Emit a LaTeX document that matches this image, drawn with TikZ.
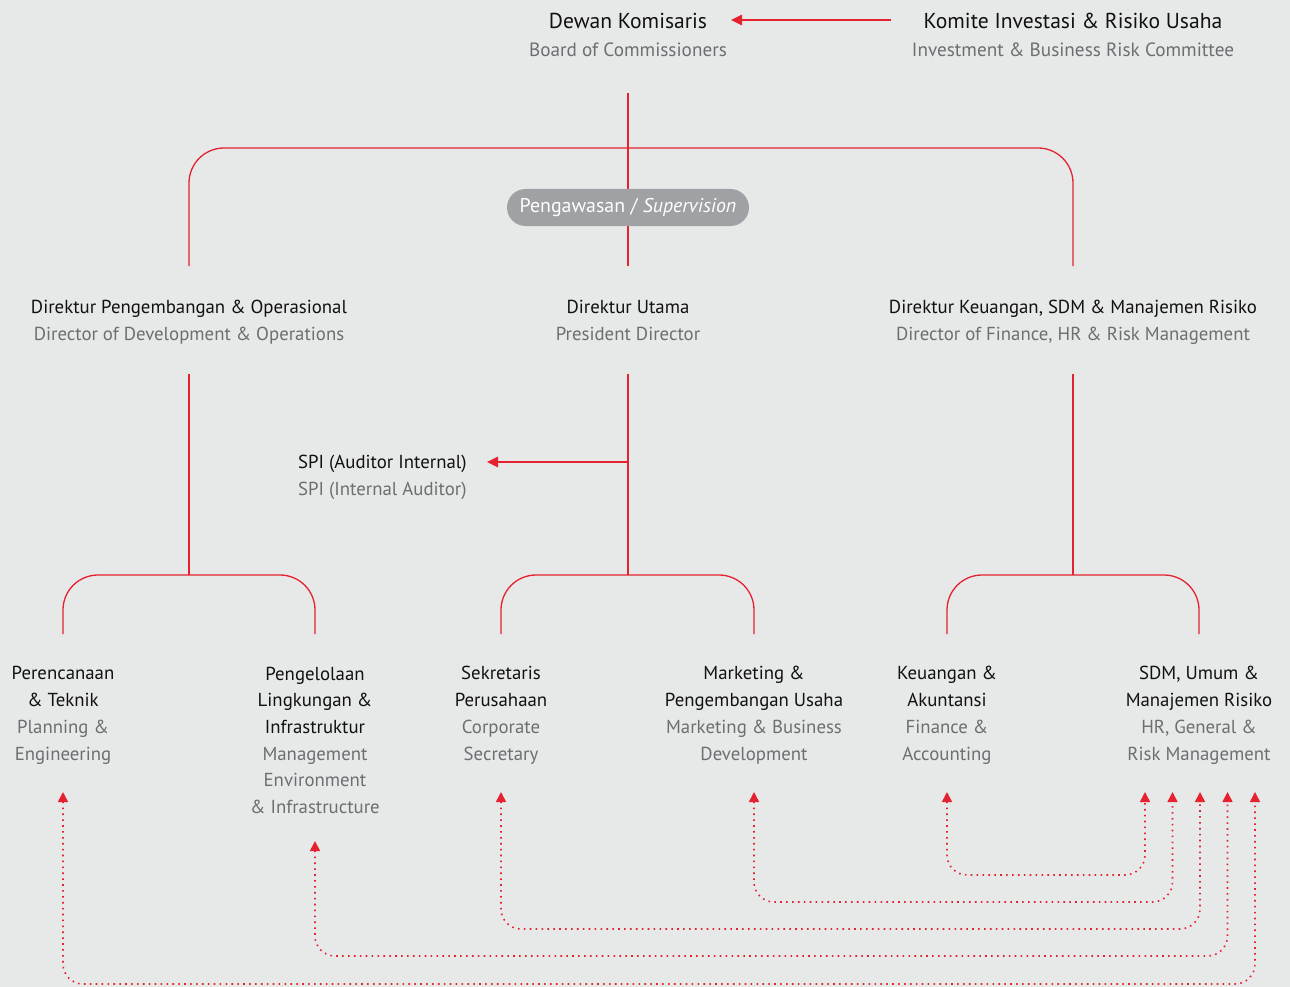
\documentclass[tikz,border=0pt]{standalone}
\usepackage{fontspec}
\setmainfont{PT Sans}
\usetikzlibrary{arrows.meta,calc}
\definecolor{bg}{HTML}{E7E8E8}
\definecolor{ired}{HTML}{E52330}
\definecolor{tgray}{HTML}{6D6E71}
\definecolor{pillc}{HTML}{A0A1A4}
\definecolor{tblack}{HTML}{111111}
\begin{document}
\begin{tikzpicture}[x=1pt,y=-1pt,
  redline/.style={draw=ired, line width=1.3pt, rounded corners=35pt},
  arr/.style={-{Triangle[length=11pt,width=10.5pt]}},
  dotted link/.style={draw=ired, line width=1.6pt, dash pattern=on 1.6pt off 4.3pt, rounded corners=20pt,
     {Triangle[length=10pt,width=10pt]}-{Triangle[length=10pt,width=10pt]}},
  lbl/.style={align=center, font=\fontsize{18.8}{26.7}\selectfont, inner sep=0pt, text=tblack, anchor=base},
  pill/.style={fill=pillc, text=white, rounded corners=18.5pt, minimum width=242pt, minimum height=37pt,
     inner sep=0pt, font=\fontsize{19.9}{24}\selectfont},
]
\fill[bg] (0,0) rectangle (1290,987);
\useasboundingbox (0,0) rectangle (1290,987);

% top level (anchor = baseline of last line)
\node[lbl, font=\fontsize{19.2}{28}\selectfont] (dk) at (628,57) {{\fontsize{21.6}{28}\selectfont Dewan Komisaris}\\\textcolor{tgray}{Board of Commissioners}};
\node[lbl, font=\fontsize{19.2}{28}\selectfont] (kom) at (1073,57) {{\fontsize{21.6}{28}\selectfont Komite Investasi \& Risiko Usaha}\\\textcolor{tgray}{Investment \& Business Risk Committee}};

% directors
\node[lbl] (dpo) at (189,340) {Direktur Pengembangan \& Operasional\\\textcolor{tgray}{Director of Development \& Operations}};
\node[lbl] (du) at (628,340) {Direktur Utama\\\textcolor{tgray}{President Director}};
\node[lbl] (dkeu) at (1073,340) {Direktur Keuangan, SDM \& Manajemen Risiko\\\textcolor{tgray}{Director of Finance, HR \& Risk Management}};

% SPI
\node[lbl, align=left, anchor=base west] (spi) at (298,495) {SPI (Auditor Internal)\\\textcolor{tgray}{SPI (Internal Auditor)}};

% units
\node[lbl] (n1) at (63,760) {Perencanaan\\\& Teknik\\\textcolor{tgray}{Planning \&}\\\textcolor{tgray}{Engineering}};
\node[lbl] (n2) at (315,813.5) {Pengelolaan\\Lingkungan \&\\Infrastruktur\\\textcolor{tgray}{Management}\\\textcolor{tgray}{Environment}\\\textcolor{tgray}{\& Infrastructure}};
\node[lbl] (n3) at (501,760) {Sekretaris\\Perusahaan\\\textcolor{tgray}{Corporate}\\\textcolor{tgray}{Secretary}};
\node[lbl] (n4) at (754,760) {Marketing \&\\Pengembangan Usaha\\\textcolor{tgray}{Marketing \& Business}\\\textcolor{tgray}{Development}};
\node[lbl] (n5) at (947,760) {Keuangan \&\\Akuntansi\\\textcolor{tgray}{Finance \&}\\\textcolor{tgray}{Accounting}};
\node[lbl] (n6) at (1199,760) {SDM, Umum \&\\Manajemen Risiko\\\textcolor{tgray}{HR, General \&}\\\textcolor{tgray}{Risk Management}};

% connector end points
\coordinate (dk-foot) at (dk.south |- 0,93);
\coordinate (du-head) at (du.north |- 0,266);
\coordinate (dpo-head) at (dpo.north |- 0,266);
\coordinate (dkeu-head) at (dkeu.north |- 0,266);
\coordinate (du-foot) at (du.south |- 0,374);
\coordinate (dpo-foot) at (dpo.south |- 0,374);
\coordinate (dkeu-foot) at (dkeu.south |- 0,374);
\coordinate (n1-head) at (n1.north |- 0,634);
\coordinate (n2-head) at (n2.north |- 0,634);
\coordinate (n3-head) at (n3.north |- 0,634);
\coordinate (n4-head) at (n4.north |- 0,634);
\coordinate (n5-head) at (n5.north |- 0,634);
\coordinate (n6-head) at (n6.north |- 0,634);

% Komite -> Dewan
\coordinate (kom-tail) at (891,20);
\coordinate (dk-tip) at (731,20);
\draw[redline, arr] (kom-tail) -- (dk-tip);

% top bracket
\draw[redline] (dk-foot) -- (du-head);
\draw[redline] (dpo-head) -- (dpo-head |- 0,148) -- (dkeu-head |- 0,148) -- (dkeu-head);

\node[pill] (sup) at (628,207.5) {Pengawasan / \textit{Supervision}};

% director trunks
\draw[redline] (dpo-foot) -- (dpo-foot |- 0,575);
\draw[redline] (du-foot) -- (du-foot |- 0,575);
\draw[redline] (dkeu-foot) -- (dkeu-foot |- 0,575);
\coordinate (spi-tip) at (487,462);
\draw[redline, arr] (du-foot |- spi-tip) -- (spi-tip);

% lower brackets
\draw[redline] (n1-head) -- (n1-head |- 0,575) -- (n2-head |- 0,575) -- (n2-head);
\draw[redline] (n3-head) -- (n3-head |- 0,575) -- (n4-head |- 0,575) -- (n4-head);
\draw[redline] (n5-head) -- (n5-head |- 0,575) -- (n6-head |- 0,575) -- (n6-head);

% dotted links
\coordinate (d1) at (n1.south |- 0,792);
\coordinate (d2) at (n2.south |- 0,841);
\coordinate (d3) at (n3.south |- 0,792);
\coordinate (d4) at (n4.south |- 0,792);
\coordinate (d5) at (n5.south |- 0,792);
\coordinate (e1) at (1145,792);
\coordinate (e2) at (1172.5,792);
\coordinate (e3) at (1200,792);
\coordinate (e4) at (1227.5,792);
\coordinate (e5) at (1255,792);
\draw[dotted link] (d5) -- (d5 |- 0,875) -- (e1 |- 0,875) -- (e1);
\draw[dotted link] (d4) -- (d4 |- 0,902) -- (e2 |- 0,902) -- (e2);
\draw[dotted link] (d3) -- (d3 |- 0,929) -- (e3 |- 0,929) -- (e3);
\draw[dotted link] (d2) -- (d2 |- 0,956) -- (e4 |- 0,956) -- (e4);
\draw[dotted link] (d1) -- (d1 |- 0,984) -- (e5 |- 0,984) -- (e5);
\end{tikzpicture}
\end{document}
